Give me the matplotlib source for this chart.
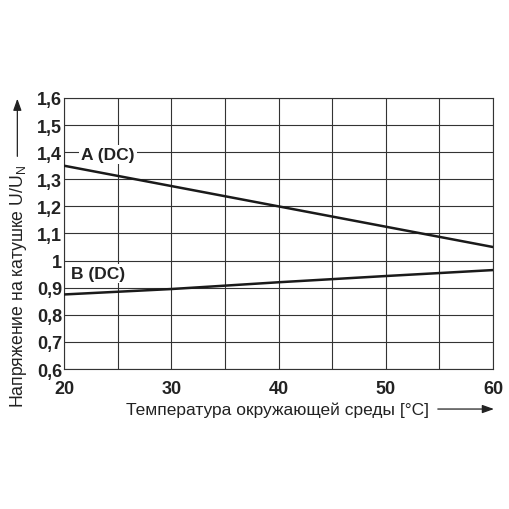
import matplotlib
matplotlib.use("Agg")
import matplotlib.pyplot as plt
from matplotlib.patches import FancyArrowPatch
from matplotlib.ticker import FuncFormatter

plt.rcParams['font.family'] = ['Liberation Sans', 'DejaVu Sans']

# data
temp = [20, 30, 40, 50, 60]
a_dc = [1.35, 1.275, 1.20, 1.125, 1.05]
b_dc = [0.875, 0.895, 0.920, 0.943, 0.965]

x_ticks = [20, 30, 40, 50, 60]
y_ticks = [0.6, 0.7, 0.8, 0.9, 1.0, 1.1, 1.2, 1.3, 1.4, 1.5, 1.6]

ink = "#222222"

fig = plt.figure(figsize=(5.1, 5.1), dpi=100)
ax = fig.add_axes([0.1255, 0.2745, 0.8412, 0.5315])

ax.plot(temp, a_dc, color="#1a1a1a", lw=1.8, zorder=3)
ax.plot(temp, b_dc, color="#1a1a1a", lw=1.8, zorder=3)

ax.set_xlim(20, 60)
ax.set_ylim(0.6, 1.6)
ax.set_xticks(range(20, 61, 5))
ax.set_yticks(y_ticks)
ax.grid(True, color="#333333", lw=0.8)
ax.tick_params(axis="x", length=0, pad=8)
ax.tick_params(axis="y", length=0, pad=1.5)

def xfmt(v, pos):
    return f"{int(v)}" if int(v) in x_ticks else ""

def yfmt(v, pos):
    s = f"{v:.1f}".replace(".", ",")
    return "1" if s == "1,0" else s

ax.xaxis.set_major_formatter(FuncFormatter(xfmt))
ax.yaxis.set_major_formatter(FuncFormatter(yfmt))
for lab in ax.get_xticklabels() + ax.get_yticklabels():
    lab.set_fontweight("bold")
    lab.set_fontsize(13)
    lab.set_color(ink)

for sp in ax.spines.values():
    sp.set_color("#333333")
    sp.set_linewidth(0.8)

ax.text(24.1, 1.39, "A (DC)", fontsize=12.5, fontweight="bold", ha="center",
        va="center", color=ink, zorder=4,
        bbox=dict(facecolor="white", edgecolor="none", pad=1.5))
ax.text(23.2, 0.951, "B (DC)", fontsize=12.5, fontweight="bold", ha="center",
        va="center", color=ink, zorder=4,
        bbox=dict(facecolor="white", edgecolor="none", pad=1.5))

# axis titles with arrows
fig.text(0.036, 0.439, "Напряжение на катушке U/U$_\\mathregular{N}$",
         rotation=90, ha="center", va="center", fontsize=12.7, color=ink)
fig.text(0.545, 0.196, "Температура окружающей среды [°C]",
         ha="center", va="center", fontsize=12.5, color=ink)

fig.add_artist(FancyArrowPatch(
    (0.034, 0.686), (0.034, 0.81), transform=fig.transFigure,
    arrowstyle="-|>,head_length=7,head_width=2.5", color=ink, lw=0.9))
fig.add_artist(FancyArrowPatch(
    (0.853, 0.196), (0.974, 0.196), transform=fig.transFigure,
    arrowstyle="-|>,head_length=7,head_width=2.5", color=ink, lw=0.9))

fig.savefig("out.png", dpi=100, facecolor="white")
